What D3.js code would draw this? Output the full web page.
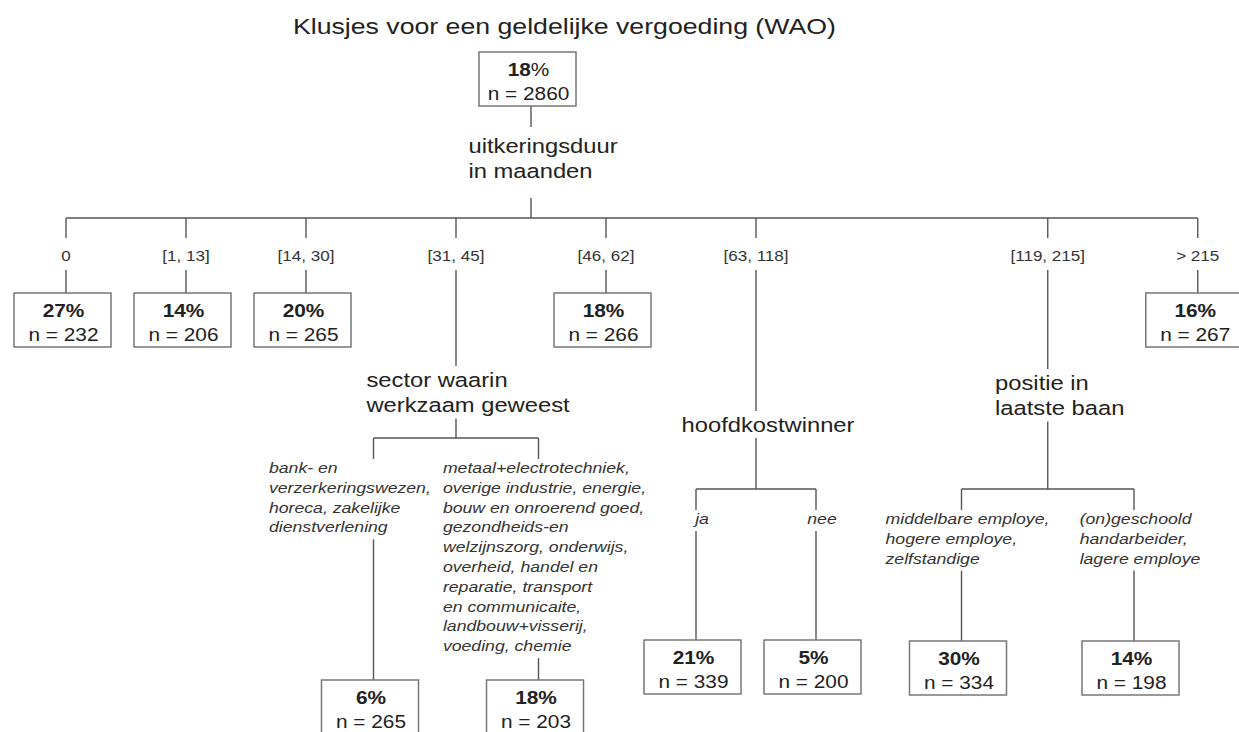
<!DOCTYPE html>
<html><head><meta charset="utf-8">
<script src="https://cdn.jsdelivr.net/npm/d3@7"></script>
<style>
body{margin:0;background:#fff}
svg{display:block}
text{font-family:"Liberation Sans", Arial, Helvetica, sans-serif}
</style>
</head><body>
<svg id="chart" width="1239" height="732"></svg>
<script>
// ---------------- data ----------------
const title = "Klusjes voor een geldelijke vergoeding (WAO)";
const rootPct = 18;
const rootN = 2860;
const rootFactor = ["uitkeringsduur", "in maanden"];

const durationLabels = ["0", "[1, 13]", "[14, 30]", "[31, 45]", "[46, 62]", "[63, 118]", "[119, 215]", "> 215"];
const durationPct = [27, 14, 20, null, 18, null, null, 16];
const durationN = [232, 206, 265, null, 266, null, null, 267];
const durationSplit = [null, null, null, "sector", null, "kostwinner", "positie", null];

const sectorFactor = ["sector waarin", "werkzaam geweest"];
const sectorGroups = [
  ["bank- en", "verzerkeringswezen,", "horeca, zakelijke", "dienstverlening"],
  ["metaal+electrotechniek,", "overige industrie, energie,", "bouw en onroerend goed,", "gezondheids-en",
   "welzijnszorg, onderwijs,", "overheid, handel en", "reparatie, transport", "en communicaite,",
   "landbouw+visserij,", "voeding, chemie"]
];
const sectorPct = [6, 18];
const sectorN = [265, 203];

const kostwinnerFactor = ["hoofdkostwinner"];
const kostwinnerGroups = [["ja"], ["nee"]];
const kostwinnerPct = [21, 5];
const kostwinnerN = [339, 200];

const positieFactor = ["positie in", "laatste baan"];
const positieGroups = [
  ["middelbare employe,", "hogere employe,", "zelfstandige"],
  ["(on)geschoold", "handarbeider,", "lagere employe"]
];
const positiePct = [30, 14];
const positieN = [334, 198];

// ---------------- layout / style ----------------
const SX = 1.17; // horizontal text stretch of the original
const layout = {
  titleX: 293, titleY: 34, titleSize: 22.8,
  rootBoxTop: 52, boxW: 97, boxH: 54, boxDx: -52,
  rootStemEnd: 127, rootFactorY: 153, factorLH: 25.5, rootStem2Start: 198,
  barY: 218, tickEnd: 238, edgeLabelY: 261, stemStart: 270, leafBoxTop: 293,
  marginLeft: 66, unit: 30,
  factorSize: 20.3, boxSize: 17.8, edgeSize: 14.6, italicSize: 15.1, italicLH: 19.8
};
const branchLayout = {
  sector: {factorY: 387, barY: 438, boxTop: 680},
  kostwinner: {factorY: 432, barY: 489, boxTop: 640},
  positie: {factorY: 390, barY: 489, boxTop: 641}
};
const branchSpread = {sector: 5.5, kostwinner: 4, positie: 5.75};
const LINE = "#555", BOX = "#777", INK = "#222", INK2 = "#333";

// ---------------- build tree ----------------
const splits = {
  sector: {factor: sectorFactor, groups: sectorGroups, pct: sectorPct, n: sectorN},
  kostwinner: {factor: kostwinnerFactor, groups: kostwinnerGroups, pct: kostwinnerPct, n: kostwinnerN},
  positie: {factor: positieFactor, groups: positieGroups, pct: positiePct, n: positieN}
};
const treeData = {
  factor: rootFactor, pct: rootPct, n: rootN,
  children: durationLabels.map((lab, i) => {
    const key = durationSplit[i];
    const s = splits[key];
    if (s) {
      return {edge: [lab], key, factor: s.factor,
        children: s.groups.map((g, j) => ({edge: g, pct: s.pct[j], n: s.n[j]}))};
    }
    return {edge: [lab], pct: durationPct[i], n: durationN[i]};
  })
};

const root = d3.hierarchy(treeData);
d3.tree().nodeSize([layout.unit, 1]).separation((a, b) => {
  if (a.parent === b.parent) {
    if (a.depth === 1) return (!a.children && !b.children) ? 4 : 5;
    return branchSpread[a.parent.data.key];
  }
  return 4.85;
})(root);

const xs = root.children.map(d => d.x);
const xScale = d3.scaleLinear()
  .domain([d3.min(xs), d3.max(xs)])
  .range([layout.marginLeft, layout.marginLeft + d3.max(xs) - d3.min(xs)]);
root.descendants().forEach(d => { d.cx = xScale(d.x); });
root.cx = d3.median(root.children, d => d.cx);

// ---------------- helpers ----------------
const svg = d3.select("#chart");
const gLines = svg.append("g");
const gBoxes = svg.append("g");
const gText = svg.append("g");

function line(x1, y1, x2, y2, color) {
  gLines.append("line").attr("x1", x1).attr("y1", y1).attr("x2", x2).attr("y2", y2)
    .attr("stroke", color || LINE).attr("stroke-width", 1.4);
}
function textBlock(x, y, lines, o) {
  const g = gText.append("g").attr("transform", `translate(${x},${y}) scale(${SX},1)`);
  g.selectAll("text").data(lines).join("text")
    .attr("x", 0).attr("y", (d, i) => i * (o.lh || 0))
    .attr("text-anchor", o.anchor || "start")
    .style("font-size", o.size + "px")
    .style("font-weight", o.weight || "normal")
    .style("font-style", o.style || "normal")
    .attr("fill", o.fill || INK)
    .text(d => d);
  return g;
}
const measurer = svg.append("text").attr("visibility", "hidden");
function blockWidth(lines, o) {
  measurer.style("font-size", o.size + "px").style("font-style", o.style || "normal")
    .style("font-weight", o.weight || "normal");
  return d3.max(lines, l => { measurer.text(l); return measurer.node().getComputedTextLength(); }) * SX;
}
function drawBox(cx, top, pct, n, lightPct) {
  const x0 = cx + layout.boxDx;
  gBoxes.append("rect").attr("x", x0).attr("y", top).attr("width", layout.boxW).attr("height", layout.boxH)
    .attr("fill", "#fff").attr("stroke", BOX).attr("stroke-width", 1.5);
  const mid = x0 + layout.boxW / 2 + 1;
  const g = gText.append("g").attr("transform", `translate(${mid},${top + 23.5}) scale(${SX},1)`);
  const t = g.append("text").attr("text-anchor", "middle").attr("fill", INK)
    .style("font-size", layout.boxSize + "px");
  t.append("tspan").style("font-weight", "bold").text(pct);
  t.append("tspan").style("font-weight", lightPct ? "normal" : "bold").text("%");
  textBlock(mid, top + 48, ["n = " + n], {size: layout.boxSize, anchor: "middle"});
}
function factorLabel(cx, y, lines) {
  const o = {size: layout.factorSize, lh: layout.factorLH};
  const w = blockWidth(lines, o);
  textBlock(cx - w / 2 + 12, y, lines, o);
  return y + (lines.length - 1) * layout.factorLH;
}

// ---------------- draw ----------------
textBlock(layout.titleX, layout.titleY, [title], {size: layout.titleSize});

// root
drawBox(root.cx, layout.rootBoxTop, root.data.pct, root.data.n, true);
line(root.cx, layout.rootBoxTop + layout.boxH, root.cx, layout.rootStemEnd);
factorLabel(root.cx, layout.rootFactorY, root.data.factor);
line(root.cx, layout.rootStem2Start, root.cx, layout.barY);
line(root.children[0].cx, layout.barY, root.children[root.children.length - 1].cx, layout.barY);

root.children.forEach(c => {
  line(c.cx, layout.barY, c.cx, layout.tickEnd);
  textBlock(c.cx, layout.edgeLabelY, c.data.edge, {size: layout.edgeSize, anchor: "middle", fill: INK2});
  if (!c.children) {
    line(c.cx, layout.stemStart, c.cx, layout.leafBoxTop);
    drawBox(c.cx, layout.leafBoxTop, c.data.pct, c.data.n);
    return;
  }
  const bl = branchLayout[c.data.key];
  line(c.cx, layout.stemStart, c.cx, bl.factorY - 21);
  const lastY = factorLabel(c.cx, bl.factorY, c.data.factor);
  line(c.cx, lastY + 6, c.cx, bl.barY);
  line(c.children[0].cx, bl.barY, c.children[c.children.length - 1].cx, bl.barY);

  // edge-label blocks, resolve overlaps between neighbours
  const io = {size: layout.italicSize, style: "italic", lh: layout.italicLH, fill: INK2};
  const blocks = c.children.map(k => {
    const w = blockWidth(k.data.edge, io);
    return {k, w, left: k.cx + 6 - w / 2};
  });
  for (let i = blocks.length - 2; i >= 0; i--) {
    const maxRight = blocks[i + 1].left - 12;
    if (blocks[i].left + blocks[i].w > maxRight) blocks[i].left = maxRight - blocks[i].w;
  }
  const labelY = bl.barY + 21 + 14;
  blocks.forEach(b => {
    const k = b.k;
    line(k.cx, bl.barY, k.cx, bl.barY + 21);
    textBlock(b.left, labelY, k.data.edge, io);
    const last = labelY + (k.data.edge.length - 1) * layout.italicLH;
    line(k.cx, last + 7, k.cx, bl.boxTop);
    drawBox(k.cx, bl.boxTop, k.data.pct, k.data.n);
  });
});
</script>
</body></html>
